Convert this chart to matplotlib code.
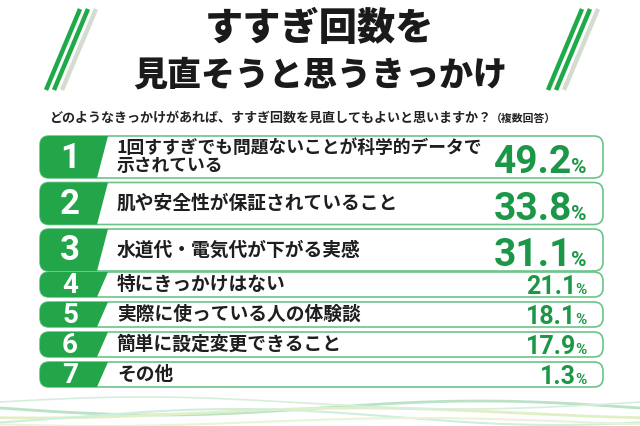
import numpy as np
import matplotlib
matplotlib.use('Agg')
import matplotlib.pyplot as plt
from matplotlib.patches import FancyBboxPatch, PathPatch
from matplotlib.path import Path

plt.rcParams['font.family'] = ['Noto Sans CJK JP', 'DejaVu Sans']

title1 = 'すすぎ回数を'
title2 = '見直そうと思うきっかけ'
question = 'どのようなきっかけがあれば、すすぎ回数を見直してもよいと思いますか？'
note = '（複数回答）'

ranks = [1, 2, 3, 4, 5, 6, 7]
labels = ['1回すすぎでも問題ないことが科学的データで\n示されている',
          '肌や安全性が保証されていること',
          '水道代・電気代が下がる実感',
          '特にきっかけはない',
          '実際に使っている人の体験談',
          '簡単に設定変更できること',
          'その他']
values = [49.2, 33.8, 31.1, 21.1, 18.1, 17.9, 1.3]

GREEN = '#22a649'
VGREEN = '#1c9747'
EDGE = '#6cc38a'

fig = plt.figure(figsize=(6.4, 4.26), dpi=100)
ax = fig.add_axes([0, 0, 1, 1])
ax.set_xlim(0, 640)
ax.set_ylim(426, 0)
ax.axis('off')

# background waves (decoration)
xs = np.linspace(0, 640, 300)
for amp, off, ph, col, lw in [(7, 408, 0.0, '#b9e3c6', 2.0), (5, 413, 1.2, '#e2efc4', 2.0),
                              (8, 417, 2.4, '#cfeedd', 1.5), (4, 422, 0.6, '#e9f3d5', 1.5),
                              (6, 403, 3.3, '#d6eedd', 1.2)]:
    ax.plot(xs, off + amp * np.sin(xs / 640 * 2 * np.pi + ph), color=col, lw=lw, zorder=0)

# slashes
for x0 in (46, 548):
    for dx, col in [(0, '#1faa4a'), (8, '#1faa4a'), (16, '#d4dcd0')]:
        ax.plot([x0 + dx, x0 + dx + 34], [90, 9], color=col, lw=3.2, solid_capstyle='butt')

ax.text(320, 29, title1, ha='center', va='center', fontsize=27.5, fontweight='heavy', color='#1a1a1a')
ax.text(320, 75, title2, ha='center', va='center', fontsize=24.5, fontweight='heavy', color='#1a1a1a')
ax.text(491, 118, question, ha='right', va='center', fontsize=9.4, fontweight='bold', color='#222222')
ax.text(491, 118.5, note, ha='left', va='center', fontsize=7.8, fontweight='bold', color='#222222')

renderer = fig.canvas.get_renderer()
x_left, x_right = 40, 603
for i, (rk, lab, val) in enumerate(zip(ranks, labels, values)):
    big = i < 3
    if big:
        top, h = 136 + i * 46.5, 42
    else:
        top, h = 272 + (i - 3) * 30, 25
    bot = top + h
    box = FancyBboxPatch((x_left, top), x_right - x_left, h,
                         boxstyle='round,pad=0,rounding_size=9',
                         facecolor='white', edgecolor=EDGE, lw=1.2, zorder=2)
    ax.add_patch(box)
    r = 9
    xt, xb = 108, 97
    verts = [(x_left + r, top), (xt, top), (xb, bot), (x_left + r, bot),
             (x_left, bot), (x_left, bot - r), (x_left, top + r),
             (x_left, top), (x_left + r, top), (x_left + r, top)]
    codes = [Path.MOVETO, Path.LINETO, Path.LINETO, Path.LINETO,
             Path.CURVE3, Path.CURVE3, Path.LINETO,
             Path.CURVE3, Path.CURVE3, Path.CLOSEPOLY]
    ax.add_patch(PathPatch(Path(verts, codes), facecolor=GREEN, edgecolor='none', zorder=3))

    cy = top + h / 2
    ax.text(70, cy + 1, str(rk), ha='center', va='center', color='white',
            fontsize=25 if big else 20, fontweight='bold', family='Roboto',
            fontstretch='condensed', zorder=4)
    ax.text(117, cy, lab, ha='left', va='center', color='#1e1e1e',
            fontsize=12.8 if i == 0 else 13.5, fontweight='bold', linespacing=1.05, zorder=4)

    base = bot - 5 if big else bot - 3.5
    pct = ax.text(587, base, '%', ha='right', va='baseline', color=VGREEN,
                  fontsize=15 if big else 11, fontweight='bold', family='Roboto', zorder=4)
    w = pct.get_window_extent(renderer).width
    ax.text(587 - w + 0.5, base, f'{val:.1f}', ha='right', va='baseline', color=VGREEN,
            fontsize=28 if big else 18, fontweight='bold', family='Roboto', zorder=4)

fig.savefig('out.png', dpi=100)
